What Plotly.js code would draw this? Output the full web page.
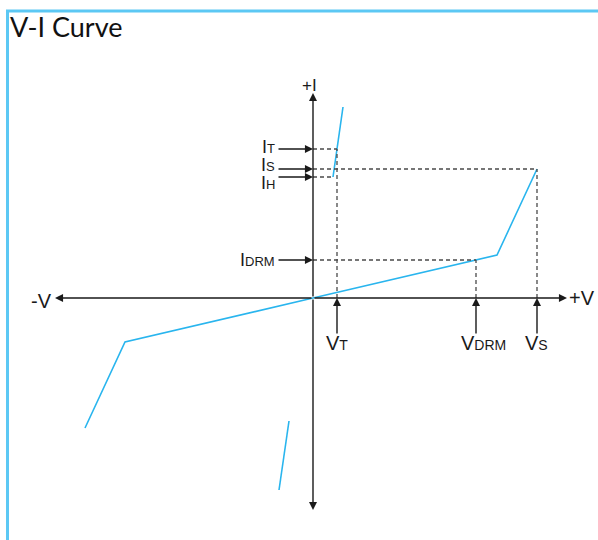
<!DOCTYPE html>
<html>
<head>
<meta charset="utf-8">
<script src="https://cdn.plot.ly/plotly-3.0.1.min.js"></script>
<style>
  html, body { margin: 0; padding: 0; background: #fff; }
  #chart { width: 598px; height: 540px; }
</style>
</head>
<body>
<div id="chart"></div>
<script>
// V-I curve data (arbitrary units)
const breakdownV = [-22.8, -18.8, 0, 18.4, 22.4];
const breakdownI = [-13.0, -4.4, 0, 4.3, 12.9];
const onStateV = [2.0, 3.0];
const onStateI = [12.1, 19.1];
const onStateNegV = [-3.4, -2.4];
const onStateNegI = [-19.2, -12.3];

// marked levels
const currentNames = ['T', 'S', 'H', 'DRM'];
const currentLevels = [14.9, 12.9, 12.1, 3.8];
const currentReachV = [2.4, 22.4, 2.0, 16.3];   // where the dashed line meets the curve
const voltageNames = ['T', 'DRM', 'S'];
const voltageLevels = [2.4, 16.3, 22.4];
const voltageReachI = [14.9, 3.8, 12.9];

// axis extents
const xAxisEnds = [-25.8, 25.4];
const yAxisEnds = [20.5, -21.2];

const curveColor = '#29b5ee';
const dashColor = '#4a4a4a';
const inkColor = '#1a1a1a';
const labelFont = 'Liberation Sans, Arial, sans-serif';

const traces = [];

// main curve pieces
[[breakdownV, breakdownI], [onStateV, onStateI], [onStateNegV, onStateNegI]].forEach(p => {
    traces.push({
        x: p[0], y: p[1],
        type: 'scatter', mode: 'lines',
        line: { color: curveColor, width: 1.6 },
        hoverinfo: 'skip'
    });
});

// dashed horizontal guides (current levels)
for (let i = 0; i < currentLevels.length; i++) {
    traces.push({
        x: [0, currentReachV[i]],
        y: [currentLevels[i], currentLevels[i]],
        type: 'scatter', mode: 'lines',
        line: { color: dashColor, width: 1.3, dash: '4px,3px' },
        hoverinfo: 'skip'
    });
}

// dashed vertical guides (voltage levels)
for (let i = 0; i < voltageLevels.length; i++) {
    traces.push({
        x: [voltageLevels[i], voltageLevels[i]],
        y: [0, voltageReachI[i]],
        type: 'scatter', mode: 'lines',
        line: { color: dashColor, width: 1.3, dash: '4px,3px' },
        hoverinfo: 'skip'
    });
}

function arrow(x, y, ax, ay) {
    return {
        x: x, y: y, ax: ax, ay: ay,
        xref: 'x', yref: 'y', axref: 'x', ayref: 'y',
        text: '', showarrow: true,
        arrowhead: 2, arrowsize: 1.15, arrowwidth: 1.4,
        arrowcolor: inkColor, standoff: 0, startstandoff: 0
    };
}

function label(text, x, y, size, anchor) {
    return {
        x: x, y: y, xref: 'x', yref: 'y',
        text: text, showarrow: false, borderpad: 0,
        xanchor: anchor || 'center', yanchor: 'middle',
        font: { family: labelFont, size: size, color: inkColor }
    };
}

const annotations = [];

// axes with arrowheads
annotations.push(arrow(xAxisEnds[1], 0, 0, 0));
annotations.push(arrow(xAxisEnds[0], 0, 0, 0));
annotations.push(arrow(0, yAxisEnds[0], 0, 0));
annotations.push(arrow(0, yAxisEnds[1], 0, 0));

annotations.push(label('+V', xAxisEnds[1] + 0.1, 0, 20, 'left'));
annotations.push(label('-V', xAxisEnds[0] - 0.2, -0.3, 20, 'right'));
annotations.push(label('+I', -0.4, yAxisEnds[0] + 0.8, 17));

// current labels pointing at the I axis
const labelY = [15.1, 13.3, 11.5, 3.8];
for (let i = 0; i < currentLevels.length; i++) {
    annotations.push(arrow(0, currentLevels[i], -3.6, currentLevels[i]));
    annotations.push(label('I<span style="font-size:13px">' + currentNames[i] + '</span>',
        -3.7, labelY[i], 18, 'right'));
}

// voltage labels pointing at the V axis
const labelX = [2.35, 17.0, 22.3];
for (let i = 0; i < voltageLevels.length; i++) {
    annotations.push(arrow(voltageLevels[i], 0, voltageLevels[i], -3.7));
    annotations.push(label('V<span style="font-size:14px">' + voltageNames[i] + '</span>',
        labelX[i], -4.5, 20));
}

const layout = {
    width: 598,
    height: 540,
    margin: { t: 0, l: 0, r: 0, b: 0 },
    paper_bgcolor: '#ffffff',
    plot_bgcolor: '#ffffff',
    showlegend: false,
    hovermode: false,
    title: {
        text: 'V-I Curve',
        x: 10 / 598, xanchor: 'left', xref: 'paper',
        y: 1 - 28 / 540, yanchor: 'middle', yref: 'container',
        font: { family: 'Lato, sans-serif', size: 27, color: '#111' }
    },
    xaxis: { range: [-31.3, 28.5], visible: false, fixedrange: true },
    yaxis: { range: [-24.2, 29.8], visible: false, fixedrange: true },
    shapes: [
        // blue frame (left and top edges)
        { type: 'line', xref: 'paper', yref: 'paper',
          x0: 7.5 / 598, x1: 7.5 / 598, y0: 0, y1: 1 - 11 / 540,
          line: { color: '#5cc8f4', width: 3 } },
        { type: 'line', xref: 'paper', yref: 'paper',
          x0: 6 / 598, x1: 1, y0: 1 - 11 / 540, y1: 1 - 11 / 540,
          line: { color: '#5cc8f4', width: 3 } }
    ],
    annotations: annotations
};

Plotly.newPlot('chart', traces, layout, { displayModeBar: false, staticPlot: true });
</script>
</body>
</html>
